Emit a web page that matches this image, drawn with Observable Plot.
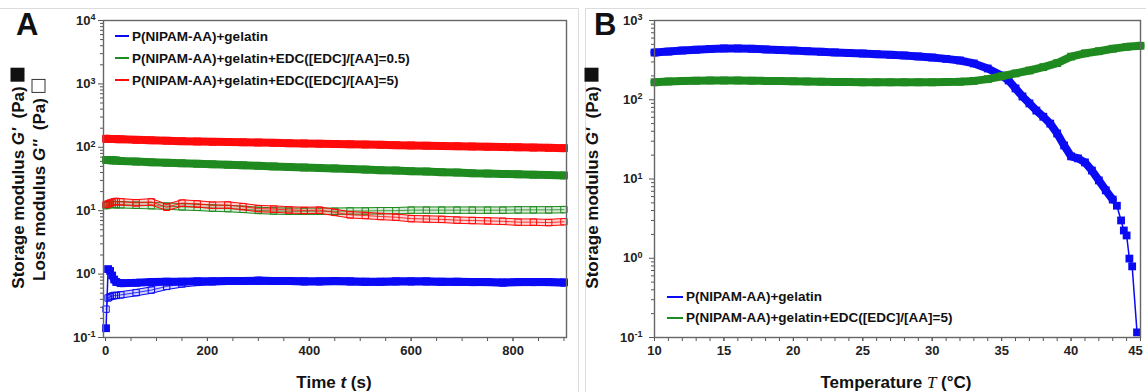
<!DOCTYPE html>
<html><head><meta charset="utf-8">
<script src="https://cdn.jsdelivr.net/npm/d3@7"></script>
<script src="https://cdn.jsdelivr.net/npm/@observablehq/plot@0.6"></script>
<style>
body{margin:0;background:#fff;font-family:"Liberation Sans",Arial,sans-serif;color:#111;}
#root{position:relative;width:1146px;height:392px;overflow:hidden;background:#fff;}
.box{position:absolute;border:1px solid #dcdcdc;}
.plot{position:absolute;top:0;}
.letter{position:absolute;font-weight:bold;font-size:31px;line-height:1;}
.ytitle{position:absolute;transform:translate(-50%,-50%) rotate(-90deg);white-space:nowrap;font-weight:bold;font-size:17px;line-height:1;}
.xtitle{position:absolute;transform:translate(-50%,-50%);white-space:nowrap;font-weight:bold;font-size:17px;line-height:1;}
.legend{position:absolute;font-weight:bold;font-size:13.5px;}
.legend .it{display:flex;align-items:center;white-space:nowrap;}
.legend .sw{display:inline-block;height:2px;margin-right:3px;}
.sq{display:inline-block;width:14px;height:14px;vertical-align:-1px;margin-left:5px;box-sizing:border-box;}
</style>
</head><body><div id="root"></div>
<script>
// ---------- Data ----------
const seriesA = ["P(NIPAM-AA)+gelatin", "P(NIPAM-AA)+gelatin+EDC([EDC]/[AA]=0.5)", "P(NIPAM-AA)+gelatin+EDC([EDC]/[AA]=5)"];
const seriesB = ["P(NIPAM-AA)+gelatin", "P(NIPAM-AA)+gelatin+EDC([EDC]/[AA]=5)"];
const colorsA = ["#0a0af5", "#1f8a1f", "#ff0a0a"];
const colorsB = ["#0a0af5", "#1f8a1f"];

const timeA = [1,5,9,13,17,21,30,60,90,120,150,180,210,240,270,300,330,360,390,420,450,480,510,540,570,600,630,660,690,720,750,780,810,840,870,900];
const blueStorageA = [0.14,1.2,1.12,0.95,0.82,0.75, 0.72,0.73,0.75,0.76,0.76,0.77,0.77,0.78,0.78,0.79, 0.78,0.78,0.77,0.77,0.78,0.77,0.76,0.76,0.77,0.77, 0.77,0.76,0.76,0.75,0.75,0.74,0.75,0.75,0.75,0.74];
const greenStorageA = [63,63,62.5,62.5,62,62, 61,59.5,58,57,56,55,54,53,52,51, 50,49,48,47,46.5,45.5,44.5,43.5,43,42, 41.5,40.5,40,39,38.5,38,37.5,37,36.5,36];
const redStorageA = [136,136,135.5,135,135,134.5, 134,131,129,127,125,123.5,122,121,120,119, 117.5,116,115,114,113,111.5,110.5,109.5,108,107, 106,105,104,103,102,101,100,99,98,97];
const blueLossA = [0.28,0.42,0.44,0.45,0.46,0.46, 0.47,0.51,0.56,0.64,0.7,0.74,0.76,0.77,0.77,0.78, 0.77,0.77,0.76,0.76,0.77,0.76,0.75,0.75,0.76,0.76, 0.76,0.75,0.75,0.74,0.74,0.73,0.74,0.74,0.74,0.73];
const greenLossA = [12,12.3,12.5,12.6,12.5,12.4, 12.4,12.2,12,11.8,11.5,11.3,11,10.8,10.5,10.1, 9.9,9.8,9.8,9.8,9.8,9.9,9.9,10,10,10.2, 10.2,10.2,10.2,10.2,10.2,10.2,10.3,10.3,10.3,10.4];
const redLossA = [12.5,12.8,13.2,13.5,13.8,14, 13.8,13.3,13.8,11.3,13.2,12.8,12.2,12.3,11.6,10.8, 10.6,10.3,10.1,10.2,9.4,8.6,8.4,8.1,7.9,7.5, 7.4,7.3,7.1,7.0,6.9,6.8,6.6,6.6,6.5,6.7];

const tempBlueB = [10,11,12,13,14,15,16,17,18,19,20,21,22,23,24,25,26,27,28,29,30,31,32,33,34,35,35.5,36,36.5,37,37.5,38,38.5,39,39.5,40,40.5,41,41.5,42,42.5,43,43.3,43.6,43.8,44,44.2,44.4,44.75];
const blueStorageB = [394,405,418,428,438,444,444,440,432,425,418,410,403,396,389,383,376,369,362,352,341,328,313,287,248,202, 175,139,110,90,73,61,50,37.5,26.5,19.3,18.2,16.2,12.8,9.6,7.2, 5.5,4.6,3.0,2.24,1.94,0.99,0.79,0.116];
const tempGreenB = [10,11,12,13,14,15,16,17,18,19,20,21,22,23,24,25,26,27,28,29,30,31,32,33,34,35,36,37,38,39,40,41,42,43,44,45];
const greenStorageB = [166,170,172,174,175,175,175,174,173,172, 171,170,169,168,167,166,166,166,166,166, 166,167,169,173,182,198,215,234,258,290, 350,385,410,440,465,480];

const xTicksA = [0,200,400,600,800];
const xTicksB = [10,15,20,25,30,35,40,45];
const yTicksA = [0.1,1,10,100,1000,10000];
const yTicksB = [0.1,1,10,100,1000];

// ---------- helpers ----------
const rows = (xs, vs) => xs.map((x, i) => ({x, v: vs[i]}));
function minorLog(lo, hi) { const m = []; for (let e = lo; e < hi; e++) for (let k = 2; k <= 9; k++) m.push(k * Math.pow(10, e)); return m; }
const supFmt = d => "10^" + Math.round(Math.log10(d));
function supify(svg) {
  const ns = "http://www.w3.org/2000/svg";
  svg.querySelectorAll("text").forEach(t => {
    const s = t.textContent;
    if (s === "45") { t.setAttribute("dx", "-5"); return; }
    if (!/^10\^-?\d$/.test(s)) return;
    const [b, e] = s.split("^");
    t.textContent = "";
    const t1 = document.createElementNS(ns, "tspan"); t1.textContent = b; t.appendChild(t1);
    const t2 = document.createElementNS(ns, "tspan"); t2.textContent = e;
    t2.setAttribute("dy", "-0.5em"); t2.setAttribute("font-size", "9px"); t.appendChild(t2);
  });
}
function storageMarks(data, color, thickData) {
  return [
    Plot.line(thickData, {x: "x", y: "v", stroke: color, strokeWidth: 8, strokeLinejoin: "round"}),
    Plot.line(data, {x: "x", y: "v", stroke: color, strokeWidth: 1.5}),
    Plot.dot(data, {x: "x", y: "v", symbol: "square", fill: color, r: 4.4})
  ];
}
function lossMarks(data, color, thickData) {
  return [
    Plot.line(thickData, {x: "x", y: "v", stroke: color, strokeWidth: 7, strokeOpacity: 0.18}),
    Plot.line(thickData, {x: "x", y: "v", stroke: color, strokeWidth: 1, dy: -3.2}),
    Plot.line(thickData, {x: "x", y: "v", stroke: color, strokeWidth: 1, dy: 3.2}),
    Plot.line(data, {x: "x", y: "v", stroke: color, strokeWidth: 0.8}),
    Plot.dot(data, {x: "x", y: "v", symbol: "square", fill: "none", stroke: color, strokeWidth: 1, r: 3.6})
  ];
}
const baseStyle = {fontFamily: "'Liberation Sans', Arial, sans-serif", fontSize: "13px", fontWeight: "bold", color: "#222", background: "transparent", overflow: "visible"};

// ---------- Panel A ----------
const bA = rows(timeA, blueStorageA), gA = rows(timeA, greenStorageA), rA = rows(timeA, redStorageA);
const bLA = rows(timeA, blueLossA), gLA = rows(timeA, greenLossA), rLA = rows(timeA, redLossA);
const plotA = Plot.plot({
  width: 580, height: 392, marginLeft: 103, marginRight: 14, marginTop: 20, marginBottom: 55,
  style: baseStyle,
  x: {domain: [-4, 905]},
  y: {type: "log", domain: [0.1, 10000]},
  marks: [
    Plot.axisX({ticks: d3.range(0, 901, 50), tickSize: 4, tickFormat: () => "", label: null, stroke: "#555"}),
    Plot.axisX({ticks: xTicksA, tickSize: 4, tickPadding: 4, label: null, stroke: "#555"}),
    Plot.axisY({ticks: minorLog(-1, 4), tickSize: 3, tickFormat: () => "", label: null, stroke: "#555"}),
    Plot.axisY({ticks: yTicksA, tickSize: 5, tickPadding: 3, tickFormat: supFmt, label: null, stroke: "#555"}),
    ...lossMarks(bLA, colorsA[0], bLA.filter(d => d.x >= 5)),
    ...storageMarks(bA, colorsA[0], bA.filter(d => d.x >= 17)),
    ...lossMarks(gLA, colorsA[1], gLA),
    ...lossMarks(rLA, colorsA[2], rLA),
    ...storageMarks(gA, colorsA[1], gA),
    ...storageMarks(rA, colorsA[2], rA),
    Plot.frame({stroke: "#666", strokeWidth: 1.4})
  ]
});
supify(plotA);

// ---------- Panel B ----------
const bB = rows(tempBlueB, blueStorageB), gB = rows(tempGreenB, greenStorageB);
const plotB = Plot.plot({
  width: 561, height: 392, marginLeft: 69, marginRight: 6, marginTop: 20, marginBottom: 55,
  style: baseStyle,
  x: {domain: [10, 45]},
  y: {type: "log", domain: [0.1, 1000]},
  marks: [
    Plot.axisX({ticks: d3.range(10, 46, 1), tickSize: 4, tickFormat: () => "", label: null, stroke: "#555"}),
    Plot.axisX({ticks: xTicksB, tickSize: 4, tickPadding: 4, label: null, stroke: "#555"}),
    Plot.axisY({ticks: minorLog(-1, 3), tickSize: 3, tickFormat: () => "", label: null, stroke: "#555"}),
    Plot.axisY({ticks: yTicksB, tickSize: 5, tickPadding: 7, tickFormat: supFmt, label: null, stroke: "#555"}),
    ...storageMarks(bB, colorsB[0], bB.filter(d => d.x <= 43)),
    ...storageMarks(gB, colorsB[1], gB),
    Plot.frame({stroke: "#666", strokeWidth: 1.4})
  ]
});
supify(plotB);

// ---------- layout ----------
const root = document.getElementById("root");
function add(html, cls, style) { const d = document.createElement("div"); d.className = cls; d.innerHTML = html; Object.assign(d.style, style); root.appendChild(d); return d; }
add("", "box", {left: "-2px", top: "8px", width: "579px", height: "390px"});
add("", "box", {left: "585px", top: "8px", width: "570px", height: "390px"});
const wa = document.createElement("div"); wa.className = "plot"; wa.style.left = "0px"; wa.appendChild(plotA); root.appendChild(wa);
const wb = document.createElement("div"); wb.className = "plot"; wb.style.left = "585px"; wb.appendChild(plotB); root.appendChild(wb);

add("A", "letter", {left: "16px", top: "9px"});
add("B", "letter", {left: "594px", top: "9px"});

add("Storage modulus <i>G'</i>&nbsp; (Pa)<span class='sq' style='background:#111'></span>", "ytitle", {left: "18px", top: "178px"});
add("Loss modulus <i>G''</i>&nbsp; (Pa)<span class='sq' style='border:1.5px solid #333'></span>", "ytitle", {left: "39px", top: "180px"});
add("Storage modulus <i>G'</i>&nbsp; (Pa)<span class='sq' style='background:#111'></span>", "ytitle", {left: "592px", top: "178px"});

add("Time <i>t</i> (s)", "xtitle", {left: "334px", top: "382px"});
add("Temperature <span style=\"font-family:'Liberation Serif',serif;font-style:italic;font-weight:normal\">T</span> (°C)", "xtitle", {left: "896px", top: "382px"});

function legend(names, colors, left, top, gap, swW) {
  const d = add("", "legend", {left: left + "px", top: top + "px"});
  names.forEach((n, i) => {
    const it = document.createElement("div"); it.className = "it"; it.style.height = gap + "px";
    it.innerHTML = `<span class="sw" style="width:${swW}px;background:${colors[i]}"></span><span>${n}</span>`;
    d.appendChild(it);
  });
}
legend(seriesA, colorsA, 115, 25, 22, 14);
legend(seriesB, colorsB, 667, 286, 21, 16);
</script></body></html>
